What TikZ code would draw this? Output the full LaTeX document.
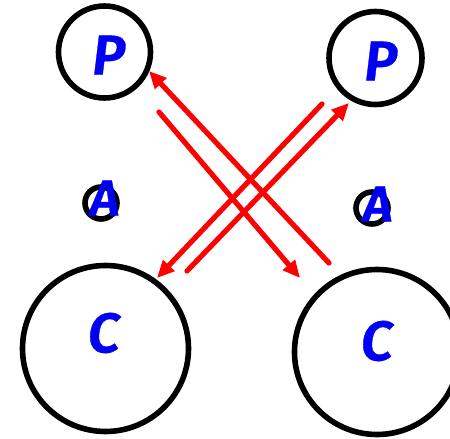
\documentclass[tikz,border=0pt]{standalone}
\usepackage{fontspec}
\setmainfont{Fira Sans}
\newfontfamily\lblfont[FakeSlant=0.12,FakeBold=0.6]{Fira Sans SemiBold}
\usetikzlibrary{arrows.meta}
\definecolor{lblue}{RGB}{0,0,245}
\definecolor{lred}{RGB}{255,0,0}
\begin{document}
\begin{tikzpicture}[x=0.75pt,y=-0.75pt,
  ring/.style={draw=black,line width=4.2pt},
  lbl/.style={text=lblue,font=\lblfont\fontsize{42}{42}\selectfont,inner sep=0pt},
  lbls/.style={text=lblue,font=\lblfont\fontsize{38}{38}\selectfont,inner sep=0pt},
  flow/.style={draw=lred,line width=3.9pt,line cap=round,-{Triangle[length=13pt,width=11.5pt]}}]
\useasboundingbox (0,0) rectangle (450,439);
% circles
\draw[ring] (104.5,52) circle (46);
\draw[ring] (375.5,58) circle (46.5);
\draw[ring] (101,203) circle (16);
\draw[ring] (372,208) circle (16);
\draw[ring] (105.5,348.5) circle (83);
\draw[ring] (377,352) circle (82.5);
% labels
\node[lbl] (p1) at (107,55) {P};
\node[lbl] (p2) at (379,61) {P};
\node[lbls] (a1) at (103,198) {A};
\node[lbls] (a2) at (376,204) {A};
\node[lbl] (c1) at (102,333) {C};
\node[lbl] (c2) at (375,341) {C};
% arrows
\coordinate (s1) at (159,112); \coordinate (e1) at (300,278);
\coordinate (s2) at (329,263); \coordinate (e2) at (149,71);
\coordinate (s3) at (187,271); \coordinate (e3) at (349,103);
\coordinate (s4) at (322,104); \coordinate (e4) at (157,278);
\draw[flow] (s1) -- (e1);
\draw[flow] (s2) -- (e2);
\draw[flow] (s3) -- (e3);
\draw[flow] (s4) -- (e4);
\end{tikzpicture}
\end{document}
